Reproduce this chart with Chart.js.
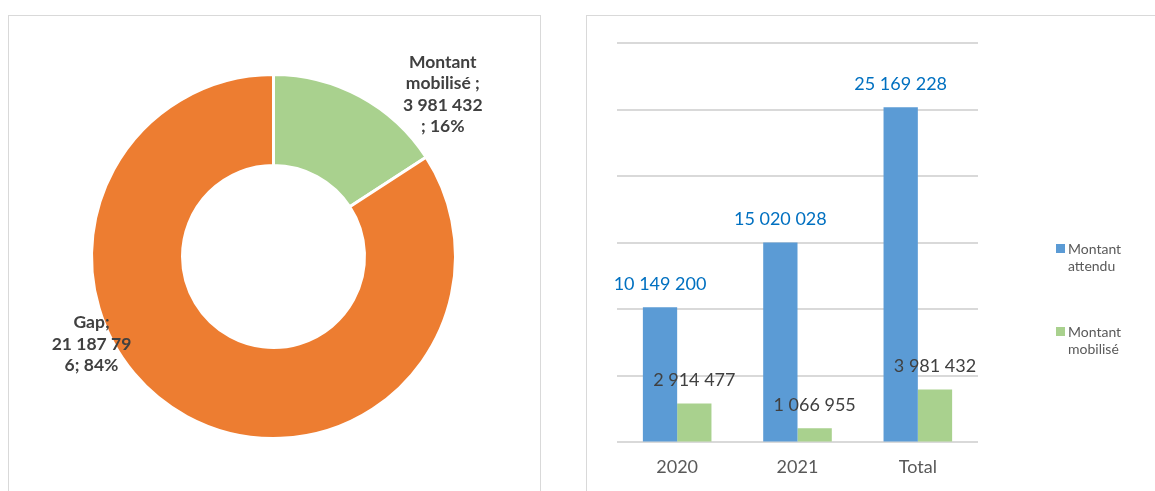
<!DOCTYPE html>
<html>
<head>
<meta charset="utf-8">
<script src="https://cdn.jsdelivr.net/npm/chart.js@4.4.1/dist/chart.umd.min.js"></script>
<style>
  html, body { margin: 0; padding: 0; background: #fff; width: 1155px; height: 491px; overflow: hidden; font-family: Lato, "Open Sans", sans-serif; }
  .panel { position: absolute; border: 1px solid #d9d9d9; box-sizing: border-box; background: #fff; }
  #p1 { left: 8px; top: 15px; width: 533px; height: 500px; }
  #p2 { left: 586px; top: 15px; width: 600px; height: 500px; }
  .cv { position: absolute; left: 0; top: 0; }
  .leg { position: absolute; font-size: 14px; color: #595959; line-height: 17px; }
  .leg .sw { position: absolute; left: 0; top: 4px; width: 9px; height: 9px; }
  .leg .tx { position: absolute; left: 12px; top: 0; white-space: nowrap; }
</style>
</head>
<body>
<div class="panel" id="p1"><div class="cv" style="width:531px;height:476px"><canvas id="c1"></canvas></div></div>
<div class="panel" id="p2"><div class="cv" style="width:569px;height:476px"><canvas id="c2"></canvas></div>
  <div class="leg" id="leg0" style="left:469px;top:224px"></div>
  <div class="leg" id="leg1" style="left:469px;top:307px"></div>
</div>
<script>
// ---- Donut data ----
const donutLabels = ["Montant mobilisé", "Gap"];
const donutValues = [3981432, 21187796];
const donutTextLines = [
  ["Montant", "mobilisé ;", "3 981 432", "; 16%"],
  ["Gap;", "21 187 79", "6; 84%"]
];
const donutColors = ["#A9D18E", "#ED7D31"];

// ---- Bar data ----
const categories = ["2020", "2021", "Total"];
const seriesNames = [["Montant", "attendu"], ["Montant", "mobilisé"]];
const montantAttendu = [10149200, 15020028, 25169228];
const montantMobilise = [2914477, 1066955, 3981432];
const barColors = ["#5B9BD5", "#A9D18E"];
const barLabelColors = ["#0070C0", "#404040"];

function fmt(v) { return String(v).replace(/\B(?=(\d{3})+(?!\d))/g, " "); }

// Donut labels plugin
const donutLabelPlugin = {
  id: "donutLabels",
  afterDatasetsDraw(chart) {
    const ctx = chart.ctx;
    const meta = chart.getDatasetMeta(0);
    const offs = [[0.93, -0.89], [-1.0, 0.48]];
    meta.data.forEach((arc, i) => {
      const r = arc.outerRadius;
      const cx = arc.x + offs[i][0] * r;
      const cy = arc.y + offs[i][1] * r;
      const lines = donutTextLines[i];
      const lh = 21.5;
      ctx.save();
      ctx.font = "bold 17.5px Lato, sans-serif";
      ctx.fillStyle = "#404040";
      ctx.textAlign = "center";
      ctx.textBaseline = "middle";
      const y0 = cy - (lines.length - 1) * lh / 2;
      lines.forEach((t, k) => ctx.fillText(t, cx, y0 + k * lh));
      ctx.restore();
    });
  }
};

new Chart(document.getElementById("c1"), {
  type: "doughnut",
  data: {
    labels: donutLabels,
    datasets: [{ data: donutValues, backgroundColor: donutColors, borderColor: "#ffffff", borderWidth: 3 }]
  },
  options: {
    responsive: true, maintainAspectRatio: false, animation: false,
    cutout: "50%",
    layout: { padding: { left: 81, right: 83, top: 57, bottom: 52 } },
    plugins: { legend: { display: false }, tooltip: { enabled: false } }
  },
  plugins: [donutLabelPlugin]
});

// Bar value labels plugin
const barLabelPlugin = {
  id: "barLabels",
  afterDatasetsDraw(chart) {
    const ctx = chart.ctx;
    chart.data.datasets.forEach((ds, di) => {
      const meta = chart.getDatasetMeta(di);
      meta.data.forEach((bar, i) => {
        ctx.save();
        ctx.font = "18px Lato, sans-serif";
        ctx.fillStyle = barLabelColors[di];
        ctx.textAlign = "center";
        ctx.textBaseline = "middle";
        ctx.fillText(fmt(ds.data[i]), bar.x, bar.y - 23);
        ctx.restore();
      });
    });
  }
};

new Chart(document.getElementById("c2"), {
  type: "bar",
  data: {
    labels: categories,
    datasets: [
      { label: seriesNames[0].join(" "), data: montantAttendu, backgroundColor: barColors[0] },
      { label: seriesNames[1].join(" "), data: montantMobilise, backgroundColor: barColors[1] }
    ]
  },
  options: {
    responsive: true, maintainAspectRatio: false, animation: false,
    layout: { padding: { left: 30, right: 178, top: 27, bottom: 8 } },
    datasets: { bar: { categoryPercentage: 0.57, barPercentage: 1.0 } },
    scales: {
      x: {
        grid: { display: false },
        border: { display: false },
        ticks: { color: "#595959", font: { size: 18, family: "Lato" }, padding: 6 }
      },
      y: {
        min: 0, max: 30000000,
        ticks: { display: false, stepSize: 5000000 },
        grid: { color: "#d9d9d9", lineWidth: 2, drawTicks: false },
        border: { display: false }
      }
    },
    plugins: { legend: { display: false }, tooltip: { enabled: false } }
  },
  plugins: [barLabelPlugin]
});

// HTML legend from series names
seriesNames.forEach((lines, i) => {
  const el = document.getElementById("leg" + i);
  el.innerHTML = '<div class="sw" style="background:' + barColors[i] + '"></div><div class="tx">' + lines.join("<br>") + '</div>';
});
</script>
</body>
</html>
